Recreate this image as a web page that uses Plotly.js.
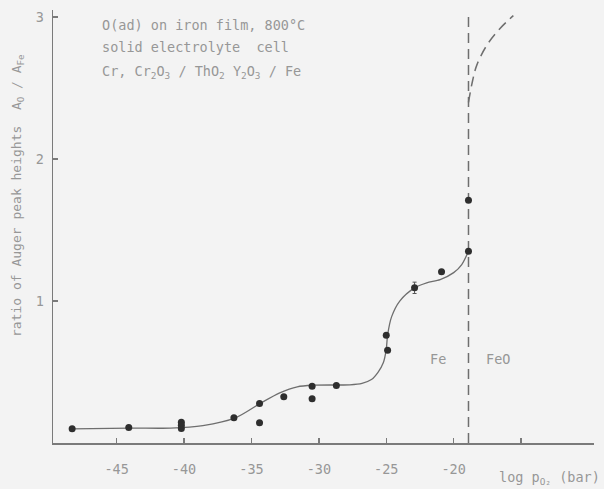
<!DOCTYPE html>
<html>
<head>
<meta charset="utf-8">
<script src="https://cdn.plot.ly/plotly-3.0.1.min.js"></script>
<style>
  html, body { margin: 0; padding: 0; background: #f3f3f3; }
  #chart { width: 604px; height: 489px; }
</style>
</head>
<body>
<div id="chart"></div>
<script>
// measured points (log pO2, ratio AO/AFe)
const pointX = [-48.3, -44.1, -40.2, -40.2, -40.2, -36.3, -34.4, -34.4, -32.6, -30.5, -30.5, -28.7, -25.0, -24.9, -22.9, -20.9, -18.9, -18.9];
const pointY = [0.10, 0.11, 0.146, 0.125, 0.102, 0.177, 0.278, 0.142, 0.325, 0.40, 0.311, 0.405, 0.759, 0.654, 1.093, 1.206, 1.351, 1.71];
const pointErr = [0, 0, 0, 0, 0, 0, 0, 0, 0, 0, 0, 0, 0, 0, 0.04, 0, 0, 0];

// hand-drawn fitted curve (Fe region)
const curveX = [-48.3, -44.0, -41.0, -38.6, -36.2, -34.4, -32.9, -31.6, -30.4, -27.7, -26.8, -26.1, -25.6, -25.22, -25.0, -24.9, -24.6, -24.0, -22.9, -22.0, -21.0, -20.0, -19.4, -18.9];
const curveY = [0.10, 0.105, 0.105, 0.123, 0.177, 0.276, 0.353, 0.396, 0.407, 0.41, 0.42, 0.447, 0.50, 0.565, 0.66, 0.76, 0.89, 1.0, 1.093, 1.128, 1.151, 1.2, 1.257, 1.351];

// dashed extrapolation (FeO region)
const feoX = [-18.9, -18.6, -18.29, -17.55, -16.56, -15.57];
const feoY = [2.40, 2.55, 2.66, 2.80, 2.92, 3.01];

// phase boundary
const boundaryX = [-18.9, -18.9];
const boundaryY = [0, 3.03];

// axis ticks
const xTickVals = [-45, -40, -35, -30, -25, -20, -15];
const xTickText = ['-45', '-40', '-35', '-30', '-25', '-20', ''];
const yTickVals = [1, 2, 3];
const yTickText = ['1', '2', '3'];

const FONT = 'DejaVu Sans Mono, monospace';
const TXT = '#979797';
const LINE = '#6e6e6e';
const FS = 13.5;

const traces = [
  { x: curveX, y: curveY, mode: 'lines', type: 'scatter',
    line: { color: LINE, width: 1.3, shape: 'spline', smoothing: 0.8 }, hoverinfo: 'skip' },
  { x: boundaryX, y: boundaryY, mode: 'lines', type: 'scatter',
    line: { color: LINE, width: 1.5, dash: '10px,6px' }, hoverinfo: 'skip' },
  { x: feoX, y: feoY, mode: 'lines', type: 'scatter',
    line: { color: LINE, width: 1.5, dash: '10px,6px', shape: 'spline' }, hoverinfo: 'skip' },
  { x: pointX, y: pointY, mode: 'markers', type: 'scatter',
    marker: { color: '#2e2e2e', size: 7 },
    error_y: { type: 'data', array: pointErr, visible: true, color: '#555', thickness: 1, width: 2 } }
];

const W = 604, H = 489, ML = 53, MR = 10, MT = 10, MB = 46;
const PW = W - ML - MR, PH = H - MT - MB;
const px = v => (v - ML) / PW;          // pixel x -> paper
const py = v => (H - MB - v) / PH;      // pixel y -> paper

const layout = {
  width: W, height: H,
  margin: { l: ML, r: MR, t: MT, b: MB },
  paper_bgcolor: '#f3f3f3', plot_bgcolor: '#f3f3f3',
  showlegend: false,
  font: { family: FONT, color: TXT, size: FS },
  xaxis: {
    range: [-49.72, -9.59], showgrid: false, zeroline: false,
    showline: true, linecolor: '#7a7a7a', linewidth: 1.5,
    tickmode: 'array', tickvals: xTickVals, ticktext: xTickText,
    ticks: 'inside', ticklen: 5, tickcolor: '#7a7a7a', tickwidth: 1.5,
    ticklabelstandoff: 13,
    tickfont: { family: FONT, color: TXT, size: FS }
  },
  yaxis: {
    range: [0, 3.05], showgrid: false, zeroline: false,
    showline: true, linecolor: '#7a7a7a', linewidth: 1.5,
    tickmode: 'array', tickvals: yTickVals, ticktext: yTickText,
    ticks: 'inside', ticklen: 5, tickcolor: '#7a7a7a', tickwidth: 1.5,
    ticklabelstandoff: 5,
    tickfont: { family: FONT, color: TXT, size: FS }
  },
  annotations: [
    { x: px(100), y: py(25), xref: 'paper', yref: 'paper', xanchor: 'left', yanchor: 'middle', showarrow: false,
      text: 'O(ad) on iron film, 800°C', font: { family: FONT, color: TXT, size: FS } },
    { x: px(100), y: py(47), xref: 'paper', yref: 'paper', xanchor: 'left', yanchor: 'middle', showarrow: false,
      text: 'solid electrolyte  cell', font: { family: FONT, color: TXT, size: FS } },
    { x: px(100), y: py(72), xref: 'paper', yref: 'paper', xanchor: 'left', yanchor: 'middle', showarrow: false,
      text: 'Cr, Cr<sub>2</sub>O<sub>3</sub> / ThO<sub>2</sub> Y<sub>2</sub>O<sub>3</sub> / Fe', font: { family: FONT, color: TXT, size: FS } },
    { x: px(438), y: py(359), xref: 'paper', yref: 'paper', xanchor: 'center', yanchor: 'middle', showarrow: false,
      text: 'Fe', font: { family: FONT, color: TXT, size: FS } },
    { x: px(498), y: py(359), xref: 'paper', yref: 'paper', xanchor: 'center', yanchor: 'middle', showarrow: false,
      text: 'FeO', font: { family: FONT, color: TXT, size: FS } },
    { x: px(17), y: py(196), xref: 'paper', yref: 'paper', showarrow: false, textangle: -90,
      xanchor: 'center', yanchor: 'middle',
      text: 'ratio of Auger peak heights  A<sub>O</sub> / A<sub>Fe</sub>', font: { family: FONT, color: TXT, size: 13 } },
    { x: px(602), y: py(478), xref: 'paper', yref: 'paper', showarrow: false,
      xanchor: 'right', yanchor: 'middle',
      text: 'log p<sub>O₂</sub> (bar)', font: { family: FONT, color: TXT, size: FS } }
  ]
};

Plotly.newPlot('chart', traces, layout, { displayModeBar: false, staticPlot: true });
</script>
</body>
</html>
